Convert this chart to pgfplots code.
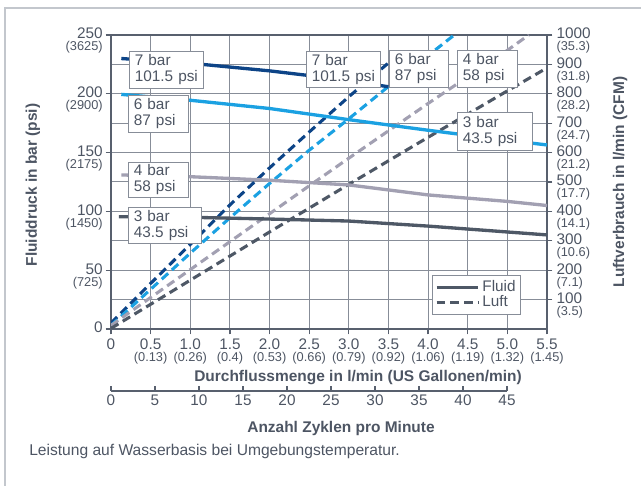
\documentclass[border=0pt]{standalone}
\usepackage{pgfplots}
\pgfplotsset{compat=1.18}
\usepackage{fontspec}
\setmainfont{Liberation Sans}
\definecolor{txt}{RGB}{77,85,99}
\definecolor{navy}{RGB}{13,68,135}
\definecolor{lblue}{RGB}{27,161,226}
\definecolor{lgray}{RGB}{162,160,178}
\definecolor{dgray}{RGB}{78,88,102}
\definecolor{gridc}{RGB}{135,141,152}
\definecolor{axc}{RGB}{88,96,110}
\definecolor{framec}{RGB}{195,199,205}
\newcommand{\sm}[1]{{\fontsize{9.6}{10}\selectfont #1}}
\newcommand{\tx}[2]{#1\\[-2.5pt]\sm{#2}}
\newcommand{\yl}[2]{#1\smash{\llap{\raisebox{-9pt}{\sm{#2}}}}}
\newcommand{\yr}[2]{\smash{\rlap{\raisebox{-9pt}{\sm{#2}}}}#1}
\newcommand{\fmain}{\fontsize{11.5}{12}\selectfont}
\newcommand{\fbold}{\fontsize{11.6}{12}\selectfont\bfseries}
\begin{document}
\begin{tikzpicture}
\useasboundingbox (0,0) rectangle (480.75pt,363.75pt);
% main axis: grid, left ticks
\begin{axis}[
  at={(83.25pt,117pt)}, anchor=south west,
  scale only axis, width=327pt, height=220.5pt,
  xmin=0, xmax=5.5, ymin=0, ymax=250,
  xtick={0,0.5,1,1.5,2,2.5,3,3.5,4,4.5,5,5.5},
  xticklabels={{0},{\tx{0.5}{(0.13)}},{\tx{1.0}{(0.26)}},{\tx{1.5}{(0.4)}},{\tx{2.0}{(0.53)}},{\tx{2.5}{(0.66)}},{\tx{3.0}{(0.79)}},{\tx{3.5}{(0.92)}},{\tx{4.0}{(1.06)}},{\tx{4.5}{(1.19)}},{\tx{5.0}{(1.32)}},{\tx{5.5}{(1.45)}}},
  ytick={0,50,100,150,200,250},
  yticklabels={{0},{\yl{50}{(725)}},{\yl{100}{(1450)}},{\yl{150}{(2175)}},{\yl{200}{(2900)}},{\yl{250}{(3625)}}},
  minor ytick={25,75,125,175,225},
  grid=both,
  grid style={gridc, line width=0.75pt},
  minor grid style={gridc, line width=0.75pt},
  axis line style={axc, line width=1.1pt},
  tick style={axc, line width=0.9pt},
  tick align=outside, major tick length=4pt, minor tick length=0pt,
  xtick pos=left, ytick pos=left,
  xticklabel style={align=center, text=txt, font=\fmain, inner sep=1pt, yshift=-2pt},
  yticklabel style={text=txt, font=\fmain, inner sep=1pt, xshift=-1pt, yshift=1pt},
]
\addplot[draw=none] coordinates {(0,0) (5.5,250)};
\end{axis}
% right axis: air consumption (dashed)
\begin{axis}[
  at={(83.25pt,117pt)}, anchor=south west,
  scale only axis, width=327pt, height=220.5pt,
  xmin=0, xmax=5.5, ymin=0, ymax=1000,
  axis x line=none, axis y line*=right,
  ytick={100,200,300,400,500,600,700,800,900,1000},
  yticklabels={{\yr{100}{(3.5)}},{\yr{200}{(7.1)}},{\yr{300}{(10.6)}},{\yr{400}{(14.1)}},{\yr{500}{(17.7)}},{\yr{600}{(21.2)}},{\yr{700}{(24.7)}},{\yr{800}{(28.2)}},{\yr{900}{(31.8)}},{\yr{1000}{(35.3)}}},
  axis line style={axc, line width=1.1pt},
  tick style={axc, line width=0.9pt},
  tick align=outside, major tick length=4pt,
  yticklabel style={text=txt, font=\fmain, inner sep=1pt, xshift=2pt, yshift=1pt},
  every axis plot/.append style={line width=2.3pt, dash pattern=on 6.5pt off 3.8pt},
]
\addplot[navy] coordinates {(0,20) (0.5,155) (1,288) (1.5,422) (2,548) (2.5,670) (3,790) (3.5,905) (3.57,920)};
\addplot[lblue] coordinates {(0,12) (0.5,135) (1,258) (1.5,378) (2,495) (2.5,608) (3,715) (3.5,825) (4,930) (4.33,1000)};
\addplot[lgray] coordinates {(0,12) (0.5,107) (1,202) (1.5,297) (2,392) (2.5,487) (3,581) (3.5,674) (4,767) (4.5,858) (5,948) (5.27,1000)};
\addplot[dgray] coordinates {(0,2) (1,166) (2,330) (3,492) (4,652) (5,810) (5.5,888)};
\end{axis}
% fluid pressure (solid) + legend
\begin{axis}[
  at={(83.25pt,117pt)}, anchor=south west,
  scale only axis, width=327pt, height=220.5pt,
  xmin=0, xmax=5.5, ymin=0, ymax=250,
  axis lines=none,
  every axis plot/.append style={line width=2.5pt},
  legend style={at={(0.736,0.184)}, anchor=north west, draw=gridc, line width=0.75pt, fill=white, font=\fmain, text=txt, inner sep=2pt, row sep=-2.5pt},
  legend cell align=left,
  legend image code/.code={\draw[#1] (0pt,0pt) -- (31pt,0pt);},
]
\addlegendimage{dgray, line width=2.5pt}
\addlegendentry{Fluid}
\addlegendimage{dgray, line width=2.3pt, dash pattern=on 6.5pt off 3.8pt}
\addlegendentry{Luft}
\addplot[navy, forget plot] coordinates {(0.13,230) (1,226) (2,219.5) (2.5,215.5) (3,211) (3.5,206)};
\addplot[lblue, forget plot] coordinates {(0.13,199.5) (1,194.5) (2,187.5) (3,178) (4,169) (5,160.5) (5.5,156.5)};
\addplot[lgray, forget plot] coordinates {(0.13,131) (1,129.5) (2,126.5) (3,122.5) (4,114) (5,108.5) (5.5,105)};
\addplot[dgray, forget plot] coordinates {(0.1,95.5) (1,95) (2,93.5) (3,91.8) (4,87.5) (5,82.5) (5.5,80)};
\end{axis}
% decorations in pixel coordinates
\begin{scope}[x=0.75pt, y=-0.75pt, shift={(0pt,363.75pt)}]
\draw[framec, line width=1.5pt] (5,486) -- (5,8) -- (642,8);
\tikzset{lab/.style={draw=gridc, line width=0.75pt, fill=white, anchor=north west, align=left, text=txt, font=\fmain, inner xsep=4pt, inner ysep=1pt}}
\node[lab, text width=47.5pt, minimum height=27.75pt] at (129,51) {7 bar\\101.5 psi};
\node[lab, text width=37pt, minimum height=27.75pt] at (128,95) {6 bar\\87 psi};
\node[lab, text width=37pt, minimum height=26.25pt] at (128,162) {4 bar\\58 psi};
\node[lab, text width=46.75pt, minimum height=27pt] at (128,207) {3 bar\\43.5 psi};
\node[lab, text width=47.5pt, minimum height=27pt] at (306,51) {7 bar\\101.5 psi};
\node[lab, text width=36.25pt, minimum height=27.75pt] at (389,50) {6 bar\\87 psi};
\node[lab, text width=37pt, minimum height=27.75pt] at (457,50) {4 bar\\58 psi};
\node[lab, text width=48.25pt, minimum height=28.5pt] at (457,112) {3 bar\\43.5 psi};
\node[rotate=90, text=txt, font=\fbold] at (33,185) {Fluiddruck in bar (psi)};
\node[rotate=90, text=txt, font=\fbold] at (620,182) {Luftverbrauch in l/min (CFM)};
\node[text=txt, font=\fbold] at (358,378) {Durchflussmenge in l/min (US Gallonen/min)};
\node[text=txt, font=\fbold] at (341,428) {Anzahl Zyklen pro Minute};
\node[text=txt, font=\fontsize{11.7}{12}\selectfont, anchor=west, inner sep=0pt] at (29,451) {Leistung auf Wasserbasis bei Umgebungstemperatur.};
\end{scope}
% cycles axis
\begin{axis}[
  at={(83.25pt,70.5pt)}, anchor=south west,
  scale only axis, width=297pt, height=10pt,
  xmin=0, xmax=45, ymin=0, ymax=1,
  axis y line=none, axis x line*=bottom,
  xtick={0,5,10,15,20,25,30,35,40,45},
  /pgf/number format/assume math mode=true,
  axis line style={axc, line width=1.1pt},
  tick style={axc, line width=0.9pt},
  tick align=inside, major tick length=4pt,
  xticklabel style={text=txt, font=\fmain, inner sep=1pt, yshift=-2pt},
]
\addplot[draw=none] coordinates {(0,0) (45,1)};
\end{axis}
\end{tikzpicture}
\end{document}
